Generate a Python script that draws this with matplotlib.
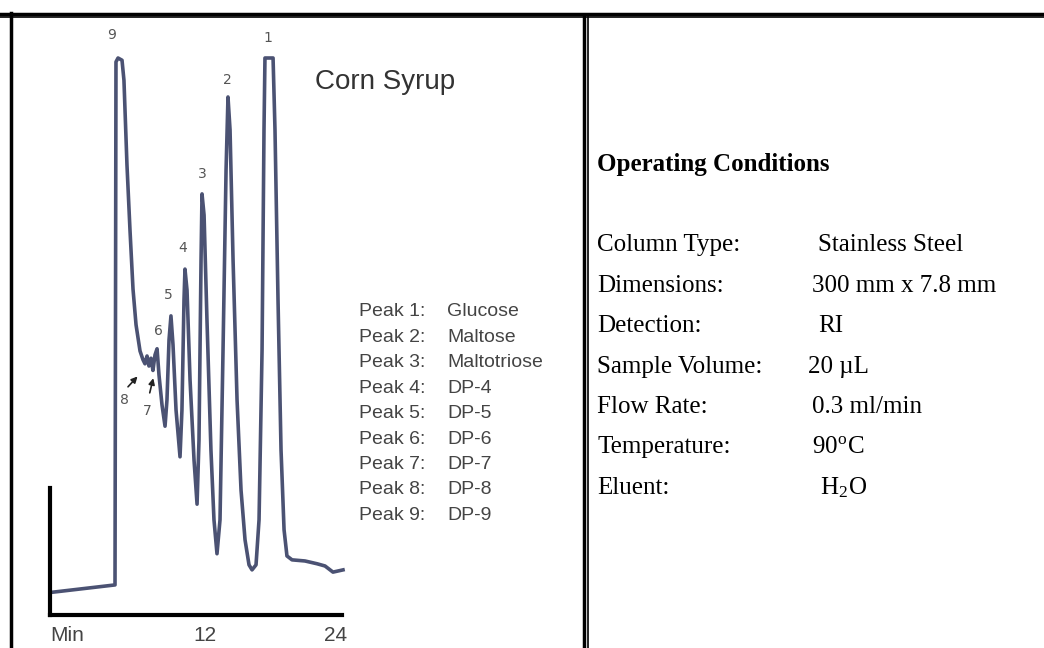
import matplotlib.pyplot as plt

plt.rcParams['mathtext.fontset'] = 'stix'

# chromatogram trace: time (min), detector signal (% of full scale)
time = [0.25, 5.38, 5.46, 5.63, 5.96, 6.12, 6.37, 6.62, 6.87, 7.12, 7.45, 7.70, 7.86, 8.03, 8.19,
        8.36, 8.52, 8.69, 8.86, 9.02, 9.27, 9.52, 9.68, 9.85, 10.01, 10.18, 10.43, 10.76, 10.92,
        11.09, 11.17, 11.34, 11.59, 11.92, 12.17, 12.33, 12.50, 12.58, 12.75, 12.99, 13.32, 13.57,
        13.82, 14.07, 14.32, 14.57, 14.73, 14.90, 15.15, 15.48, 15.81, 16.14, 16.47, 16.72, 17.05,
        17.30, 17.55, 17.71, 17.79, 18.46, 18.62, 18.87, 19.12, 19.37, 19.61, 20.03, 21.10, 22.10,
        22.76, 23.42, 24.25]
signal = [4.1, 5.4, 99.3, 100, 99.6, 96.0, 80.8, 69.1, 58.5, 52.1, 47.4, 45.8, 45.1, 46.5, 44.7,
          46.1, 43.9, 46.7, 47.8, 43.1, 37.7, 33.9, 38.6, 49.4, 53.7, 48.5, 36.8, 28.4, 36.8,
          56.6, 62.1, 58.3, 42.2, 27.8, 19.9, 31.4, 63.7, 75.6, 71.8, 53.0, 29.6, 17.1,
          11.0, 17.1, 47.6, 79.9, 93.0, 87.1, 63.7, 38.6, 22.4, 13.5, 9.0, 8.1, 9.0,
          17.1, 47.6, 87.1, 100, 100, 87.1, 56.6, 29.6, 15.3, 10.6, 9.9, 9.7, 9.2,
          8.8, 7.7, 8.1]

peak_ids = ['9', '1', '2', '3', '4', '5', '6', '8', '7']
peak_t = [5.13, 18.04, 14.65, 12.58, 11.0, 9.77, 8.94, 6.2, 8.03]
peak_s = [104.1, 103.6, 96.0, 79.2, 65.9, 57.5, 51.0, 38.6, 36.6]

peak_names = ['Glucose', 'Maltose', 'Maltotriose', 'DP-4', 'DP-5', 'DP-6', 'DP-7', 'DP-8', 'DP-9']

cond_labels = ['Column Type:', 'Dimensions:', 'Detection:', 'Sample Volume:', 'Flow Rate:',
               'Temperature:', 'Eluent:']
cond_values = ['Stainless Steel', '300 mm x 7.8 mm', 'RI', '20 µL', '0.3 ml/min',
               r'90$^\mathregular{o}$C', r'H$_\mathregular{2}$O']
value_x = [818, 812, 818, 808, 812, 812, 820]

fig = plt.figure(figsize=(10.44, 6.48), dpi=100)
bg = fig.add_axes([0, 0, 1, 1])
bg.set_xlim(0, 1044)
bg.set_ylim(648, 0)
bg.axis('off')

# table borders
bg.plot([0, 1044], [13.5, 13.5], color='black', lw=2.5)
bg.plot([0, 1044], [17, 17], color='black', lw=1.2)
bg.plot([11, 11], [13, 648], color='black', lw=2.5)
bg.plot([583.5, 583.5], [17, 648], color='black', lw=2.5)
bg.plot([587.5, 587.5], [17, 648], color='black', lw=1.2)

# chromatogram
ax = fig.add_axes([50 / 1044, 33 / 648, 290 / 1044, 557 / 648])
ax.set_xlim(0, 24)
ax.set_ylim(0, 100)
ax.axis('off')
ax.plot(time, signal, color='#4b5273', lw=2.6, solid_joinstyle='round', clip_on=False)
ax.plot([0, 0], [22.8, 0], color='black', lw=3, clip_on=False)
ax.plot([0, 24.2], [0, 0], color='black', lw=3, clip_on=False)
for lab, t, ha in [('Min', 0, 'left'), ('12', 12.8, 'center'), ('24', 23.6, 'center')]:
    ax.text(t, -3.6, lab, ha=ha, va='center', fontsize=15, color='#444444',
            family='Liberation Sans', clip_on=False)
for pid, t, s in zip(peak_ids, peak_t, peak_s):
    ax.text(t, s, pid, ha='center', va='center', fontsize=10, color='#555555',
            family='DejaVu Sans', clip_on=False)
ax.annotate('', xy=(7.4, 43.2), xytext=(6.3, 40.6),
            arrowprops=dict(arrowstyle='-|>', color='#222222', lw=1.2, mutation_scale=9))
ax.annotate('', xy=(8.6, 43.0), xytext=(8.2, 39.4),
            arrowprops=dict(arrowstyle='-|>', color='#222222', lw=1.2, mutation_scale=9))

bg.text(315, 82, 'Corn Syrup', ha='left', va='center', fontsize=20, color='#333333',
        family='Liberation Sans')
for i, name in enumerate(peak_names):
    y = 312 + i * 25.4
    bg.text(359, y, 'Peak %d:' % (i + 1), ha='left', va='center', fontsize=14,
            color='#444444', family='Liberation Sans')
    bg.text(447, y, name, ha='left', va='center', fontsize=14,
            color='#444444', family='Liberation Sans')

# operating conditions
bg.text(597, 165, 'Operating Conditions', ha='left', va='center', fontsize=18,
        fontweight='semibold', family='Liberation Serif', color='black')
for i, (lab, val, vx) in enumerate(zip(cond_labels, cond_values, value_x)):
    y = 245 + i * 40.5
    bg.text(597, y, lab, ha='left', va='center', fontsize=18, family='Liberation Serif')
    bg.text(vx, y, val, ha='left', va='center', fontsize=18, family='Liberation Serif')

fig.savefig('out.png', dpi=100)
